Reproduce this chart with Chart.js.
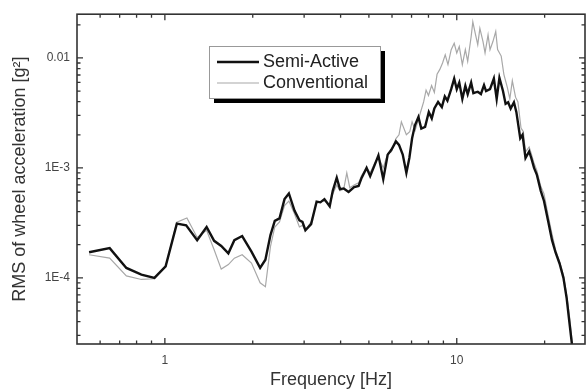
<!DOCTYPE html>
<html>
<head>
<meta charset="utf-8">
<script src="https://cdn.jsdelivr.net/npm/chart.js@4/dist/chart.umd.min.js"></script>
<style>
  body { margin: 0; background: #fff; }
  canvas { display: block; }
</style>
</head>
<body>
<canvas id="myChart" width="586" height="391"></canvas>
<script>
let semiFreq = [0.55, 0.647, 0.738, 0.831, 0.921, 1.006, 1.099, 1.183, 1.29, 1.39, 1.475, 1.56, 1.65, 1.73, 1.84, 1.98, 2.12, 2.21, 2.30, 2.38, 2.47, 2.57, 2.66, 2.78, 2.89, 2.96, 3.03, 3.17, 3.31, 3.41, 3.52, 3.67, 3.76, 3.88, 3.98, 4.1, 4.26, 4.45, 4.61, 4.72, 4.91, 5.05, 5.23, 5.39, 5.6, 5.8, 5.97, 6.19, 6.34, 6.53, 6.72, 6.88, 7.03, 7.19, 7.39, 7.56, 7.79, 8.02, 8.21, 8.38, 8.63, 8.89, 9.1, 9.29, 9.57, 9.8, 10, 10.2, 10.45, 10.7, 10.9, 11.2, 11.4, 11.8, 12.1, 12.4, 12.6, 13.0, 13.4, 13.7, 14.0, 14.4, 14.7, 15.0, 15.3, 15.7, 16.0, 16.5, 16.8, 17.2, 17.7, 18.0, 18.4, 18.8, 19.4, 19.9, 20.6, 21.2, 21.8, 22.5, 23.2, 23.8, 24.3, 24.8];
let semiVals = [1.71e-4, 1.86e-4, 1.23e-4, 1.07e-4, 1.0e-4, 1.27e-4, 3.11e-4, 3.0e-4, 2.2e-4, 2.9e-4, 2.17e-4, 1.95e-4, 1.67e-4, 2.2e-4, 2.4e-4, 1.73e-4, 1.23e-4, 1.46e-4, 2.45e-4, 3.3e-4, 3.47e-4, 5.2e-4, 5.85e-4, 4.09e-4, 3.33e-4, 3.23e-4, 2.71e-4, 3.08e-4, 4.93e-4, 4.86e-4, 5.2e-4, 4.47e-4, 6.18e-4, 8.13e-4, 6.4e-4, 6.5e-4, 6.05e-4, 6.7e-4, 6.86e-4, 8.1e-4, 1.0e-3, 8.4e-4, 1.06e-3, 1.3e-3, 7.9e-4, 1.32e-3, 1.46e-3, 1.74e-3, 1.62e-3, 1.32e-3, 9.0e-4, 1.23e-3, 1.86e-3, 2.44e-3, 2.9e-3, 2.28e-3, 2.36e-3, 3.22e-3, 2.82e-3, 3.47e-3, 3.98e-3, 3.57e-3, 4.47e-3, 4.09e-3, 5.2e-3, 6.48e-3, 5.2e-3, 5.97e-3, 4.24e-3, 5.57e-3, 4.68e-3, 5.97e-3, 4.79e-3, 4.93e-3, 4.7e-3, 5.65e-3, 5.0e-3, 5.2e-3, 6.5e-3, 4.24e-3, 6.6e-3, 5.0e-3, 3.82e-3, 3.95e-3, 3.46e-3, 3.95e-3, 3.23e-3, 1.86e-3, 2.0e-3, 1.23e-3, 1.41e-3, 1.23e-3, 1.0e-3, 8.7e-4, 6.18e-4, 5.0e-4, 3.2e-4, 2.2e-4, 1.7e-4, 1.35e-4, 1.0e-4, 6.5e-5, 4.0e-5, 2.5e-5];

let convFreq = [0.55, 0.647, 0.738, 0.831, 0.921, 1.006, 1.099, 1.19, 1.29, 1.39, 1.475, 1.56, 1.65, 1.73, 1.84, 1.98, 2.12, 2.21, 2.30, 2.38, 2.47, 2.57, 2.66, 2.78, 2.89, 2.96, 3.03, 3.17, 3.31, 3.41, 3.52, 3.67, 3.76, 3.88, 3.98, 4.1, 4.2, 4.3, 4.45, 4.61, 4.72, 4.91, 5.05, 5.23, 5.39, 5.6, 5.8, 5.97, 6.19, 6.34, 6.46, 6.72, 6.9, 7.03, 7.2, 7.4, 7.7, 7.85, 8.0, 8.2, 8.38, 8.56, 8.75, 8.94, 9.13, 9.33, 9.57, 9.8, 10, 10.2, 10.45, 10.7, 10.9, 11.2, 11.35, 11.6, 11.8, 12.0, 12.3, 12.5, 12.8, 13.0, 13.3, 13.6, 13.8, 14.2, 14.5, 14.9, 15.2, 15.5, 15.9, 16.2, 16.6, 16.9, 17.2, 17.7, 18.0, 18.4, 18.8, 19.4, 19.9, 20.6, 21.2, 21.8, 22.5, 23.2, 23.8, 24.4, 24.9];
let convVals = [1.62e-4, 1.51e-4, 1.04e-4, 9.66e-5, 9.8e-5, 1.27e-4, 3.2e-4, 3.5e-4, 2.33e-4, 2.7e-4, 1.8e-4, 1.2e-4, 1.32e-4, 1.51e-4, 1.62e-4, 1.36e-4, 9.0e-5, 8.3e-5, 1.92e-4, 2.9e-4, 3.23e-4, 4.54e-4, 5.0e-4, 3.82e-4, 2.9e-4, 3.0e-4, 2.71e-4, 3.23e-4, 4.8e-4, 4.9e-4, 5.0e-4, 4.6e-4, 5.8e-4, 7.0e-4, 6.2e-4, 6.4e-4, 9.0e-4, 6.6e-4, 7.0e-4, 7.3e-4, 8.5e-4, 1.0e-3, 9.0e-4, 1.1e-3, 1.25e-3, 1.0e-3, 1.35e-3, 1.4e-3, 1.85e-3, 2.0e-3, 2.62e-3, 2.0e-3, 2.13e-3, 2.62e-3, 2.2e-3, 2.8e-3, 3.98e-3, 5.1e-3, 4.55e-3, 5.6e-3, 4.86e-3, 7.1e-3, 7.87e-3, 9.0e-3, 1.07e-2, 8.7e-3, 1.19e-2, 1.36e-2, 1.11e-2, 1.27e-2, 8.7e-3, 1.19e-2, 9.3e-3, 1.56e-2, 2.13e-2, 1.62e-2, 1.32e-2, 1.86e-2, 1.41e-2, 1.11e-2, 1.62e-2, 1.19e-2, 1.41e-2, 1.74e-2, 1.19e-2, 1.04e-2, 7.1e-3, 5.4e-3, 4.24e-3, 6.2e-3, 4.4e-3, 3.98e-3, 2.3e-3, 2.14e-3, 1.4e-3, 1.55e-3, 1.35e-3, 1.1e-3, 9.5e-4, 6.8e-4, 5.8e-4, 3.6e-4, 2.5e-4, 1.8e-4, 1.4e-4, 1.05e-4, 7.0e-5, 4.2e-5, 2.5e-5];

let xTicks = [0.6, 0.7, 0.8, 0.9, 1, 2, 3, 4, 5, 6, 7, 8, 9, 10, 20];
let xMajor = [1, 10];
let xLabels = ['1', '10'];

let yTicks = [3e-5, 4e-5, 5e-5, 6e-5, 7e-5, 8e-5, 9e-5, 1e-4, 2e-4, 3e-4, 4e-4, 5e-4, 6e-4, 7e-4, 8e-4, 9e-4, 1e-3, 2e-3, 3e-3, 4e-3, 5e-3, 6e-3, 7e-3, 8e-3, 9e-3, 0.01, 0.02];
let yMajor = [1e-4, 1e-3, 0.01];
let yLabels = ['1E-4', '1E-3', '0.01'];

let fontFamily = "'Liberation Sans', Arial, sans-serif";

// frame, inward ticks and the boxed legend with its shadow
let framePlugin = {
  id: 'frame',
  afterDraw(chart) {
    let ctx = chart.ctx;
    let a = chart.chartArea;
    let xs = chart.scales.x;
    let ys = chart.scales.y;
    ctx.save();
    ctx.strokeStyle = '#333';
    ctx.lineWidth = 1.3;
    xTicks.forEach(v => {
      let px = xs.getPixelForValue(v);
      let len = xMajor.includes(v) ? 6 : 3.5;
      ctx.beginPath();
      ctx.moveTo(px, a.bottom); ctx.lineTo(px, a.bottom - len);
      ctx.moveTo(px, a.top); ctx.lineTo(px, a.top + len);
      ctx.stroke();
    });
    yTicks.forEach(v => {
      let py = ys.getPixelForValue(v);
      let len = yMajor.includes(v) ? 6 : 3.5;
      ctx.beginPath();
      ctx.moveTo(a.left, py); ctx.lineTo(a.left + len, py);
      ctx.moveTo(a.right, py); ctx.lineTo(a.right - len, py);
      ctx.stroke();
    });
    ctx.lineWidth = 1.6;
    ctx.strokeRect(a.left, a.top, a.right - a.left, a.bottom - a.top);

    // legend
    let bx = 209, by = 46, bw = 171, bh = 52;
    ctx.fillStyle = '#000';
    ctx.fillRect(bx + 5, by + 5, bw, bh);
    ctx.fillStyle = '#fff';
    ctx.fillRect(bx, by, bw, bh);
    ctx.strokeStyle = '#999';
    ctx.lineWidth = 1;
    ctx.strokeRect(bx + 0.5, by + 0.5, bw, bh);
    ctx.font = '18px ' + fontFamily;
    ctx.textBaseline = 'middle';
    ctx.textAlign = 'left';
    chart.data.datasets.forEach((ds, i) => {
      let ly = by + 16 + i * 21;
      ctx.strokeStyle = ds.borderColor;
      ctx.lineWidth = ds.borderWidth;
      ctx.beginPath();
      ctx.moveTo(bx + 8, ly); ctx.lineTo(bx + 50, ly);
      ctx.stroke();
      ctx.fillStyle = '#222';
      ctx.fillText(ds.label, bx + 54, ly);
    });
    ctx.restore();
  }
};

let mychart = document.getElementById('myChart');

let chart = new Chart(mychart, {
  type: 'line',
  data: {
    datasets: [
      {
        label: 'Semi-Active',
        data: semiFreq.map((f, i) => ({ x: f, y: semiVals[i] })),
        borderColor: '#111',
        borderWidth: 2.4,
        pointRadius: 0,
        tension: 0,
        fill: false
      },
      {
        label: 'Conventional',
        data: convFreq.map((f, i) => ({ x: f, y: convVals[i] })),
        borderColor: '#a8a8a8',
        borderWidth: 1.2,
        pointRadius: 0,
        tension: 0,
        fill: false
      }
    ]
  },
  options: {
    responsive: false,
    animation: false,
    layout: { padding: { top: 12, right: 1, left: 0, bottom: 0 } },
    plugins: {
      legend: { display: false },
      tooltip: { enabled: false }
    },
    scales: {
      x: {
        type: 'logarithmic',
        min: 0.5,
        max: 27.5,
        afterBuildTicks: s => { s.ticks = xTicks.map(v => ({ value: v })); },
        afterFit: s => { s.height = 47; },
        grid: { display: false, drawTicks: false },
        border: { display: false },
        ticks: {
          autoSkip: false,
          maxRotation: 0,
          padding: 9,
          color: '#444',
          font: { size: 12, family: fontFamily },
          callback: v => { let k = xMajor.indexOf(v); return k >= 0 ? xLabels[k] : ''; }
        },
        title: {
          display: true,
          text: 'Frequency [Hz]',
          color: '#333',
          font: { size: 18, family: fontFamily },
          padding: { top: 4, bottom: 0 }
        }
      },
      y: {
        type: 'logarithmic',
        min: 2.5e-5,
        max: 0.025,
        afterBuildTicks: s => { s.ticks = yTicks.map(v => ({ value: v })); },
        afterFit: s => { s.width = 77; },
        grid: { display: false, drawTicks: false },
        border: { display: false },
        ticks: {
          autoSkip: false,
          padding: 7,
          color: '#444',
          font: { size: 12, family: fontFamily },
          callback: v => { let k = yMajor.indexOf(v); return k >= 0 ? yLabels[k] : ''; }
        },
        title: {
          display: true,
          text: 'RMS of wheel acceleration [g²]',
          color: '#333',
          font: { size: 18, family: fontFamily },
          padding: { top: 9, bottom: 0 }
        }
      }
    }
  },
  plugins: [framePlugin]
});
</script>
</body>
</html>
